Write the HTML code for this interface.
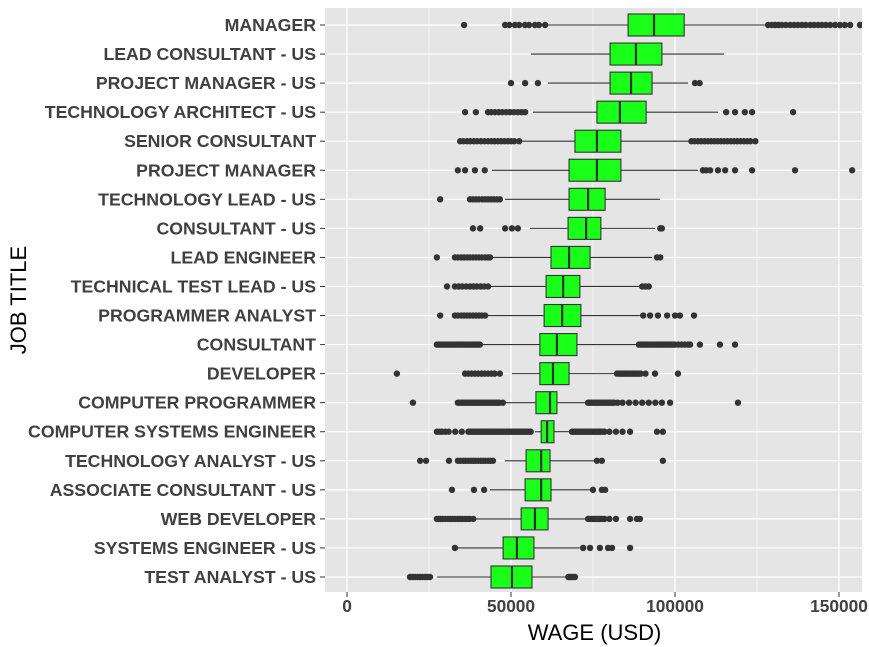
<!DOCTYPE html>
<html><head><meta charset="utf-8"><style>
html,body{margin:0;padding:0;background:#fff;}
svg{display:block;font-family:"Liberation Sans",Arial,sans-serif;}
</style></head><body>
<svg id="chart" width="869" height="647" viewBox="0 0 869 647" xmlns="http://www.w3.org/2000/svg"></svg>
<script>
const categories = ["MANAGER","LEAD CONSULTANT - US","PROJECT MANAGER - US","TECHNOLOGY ARCHITECT - US","SENIOR CONSULTANT","PROJECT MANAGER","TECHNOLOGY LEAD - US","CONSULTANT - US","LEAD ENGINEER","TECHNICAL TEST LEAD - US","PROGRAMMER ANALYST","CONSULTANT","DEVELOPER","COMPUTER PROGRAMMER","COMPUTER SYSTEMS ENGINEER","TECHNOLOGY ANALYST - US","ASSOCIATE CONSULTANT - US","WEB DEVELOPER","SYSTEMS ENGINEER - US","TEST ANALYST - US"];
// values in thousands USD
const whiskerLow = [61.3,56.1,61.3,56.7,53.4,44.2,48.2,55.8,44.2,43.6,43.0,41.2,50.3,48.2,57.3,48.2,43.6,39.3,33.5,27.4];
const q1 =        [85.7,80.2,80.2,76.2,69.5,67.7,67.7,67.4,62.2,60.7,60.1,58.8,58.8,57.6,59.2,54.6,54.3,53.1,47.6,43.9];
const median =    [93.6,88.1,86.6,83.2,76.2,76.2,73.5,72.9,67.7,65.9,65.6,64.0,62.8,61.9,61.0,59.2,59.2,57.3,51.8,50.3];
const q3 =        [102.8,96.0,93.0,91.2,83.5,83.5,78.7,77.4,74.1,71.0,71.3,70.1,67.7,64.0,63.1,61.9,62.2,61.3,57.0,56.4];
const whiskerHigh=[127.4,114.9,104.0,113.1,104.3,107.0,95.4,93.9,93.0,89.3,89.3,88.7,81.7,72.9,68.0,75.6,74.1,72.6,71.0,67.1];
const outliers = [
 [35.7,48.2,49.5,51.2,52.5,54.3,55.5,57.3,58.5,60.4,128.4,129.5,130.5,131.5,132.6,133.8,135.1,136.3,137.5,138.7,139.9,141.2,142.4,143.6,144.8,146,147.3,148.8,150.3,151.8,153.4,156.4],
 [],
 [50.0,54.3,58.2,106.1,107.5],
 [36.0,39.3,43.0,44.0,45.1,46.2,47.3,48.5,49.7,50.9,52.1,53.2,54.3,115.6,118.3,121.3,123.5,136.0],
 [34.5,35.5,36.6,37.6,38.7,39.7,40.8,41.9,43,44,45,46,47,48,49,50,51,52.5,105,106,107,108,109,110,111,112,113,114,115,116,117,118,119,120,121,122,123,124.5],
 [33.8,36,39,42,108.5,109.5,110.7,113.1,115.3,118.3,123.5,136.6,154.0],
 [28.4,37.5,38.4,39.3,40.2,41.2,42.1,43,43.9,44.8,45.7,46.6],
 [38.4,40.6,48.2,50.3,52.1,95.5,96],
 [27.4,32.9,33.8,34.8,35.7,36.6,37.5,38.4,39.3,40.2,41.1,42.1,43,43.6,94.5,95.5],
 [30.5,32.9,34,35.1,36.3,37.5,38.6,39.6,40.7,41.8,43,90,91,92],
 [28.4,32.9,33.8,34.8,35.7,36.6,37.5,38.4,39.3,40.2,41.1,42.1,90.3,92.4,94.8,97.6,100,101.5,105.8],
 [27.4,28,28.5,29,29.5,30,30.5,31,31.5,32,32.5,33,33.5,34,34.5,35,35.5,36,36.5,37,37.5,38,38.5,39,39.5,40,40.5,89,89.5,90,90.5,91,91.5,92,92.5,93,93.5,94,94.5,95,95.5,96,96.5,97,97.5,98,98.5,99,99.5,100,101,102,103,104,104.6,107.6,113.7,118.3],
 [15.2,36,37,38,39,40,41,42,43,44,45,46.6,82.3,83,83.5,84,84.5,85,85.5,86,86.5,87,87.5,88,88.5,89,89.5,91,93.9,100.9],
 [20.1,33.8,34.4,35,35.5,36,36.5,37,37.5,38,38.5,39,39.5,40,40.5,41,41.5,42,42.5,43,43.5,44,44.5,45,45.5,46,46.5,47.5,73.5,74,74.5,75,75.5,76,76.5,77,77.5,78,78.5,79,79.5,80,80.5,81,81.5,82.5,84,86,88,90,92,94,96,98.5,119.2],
 [27.4,28.2,29,30,31,33,35,37,37.5,38,38.5,39,39.5,40,40.5,41,41.5,42,42.5,43,43.5,44,44.5,45,45.5,46,46.5,47,47.5,48,48.5,49,49.5,50,50.5,51,51.5,52,52.5,53,53.5,54,54.5,55,55.5,56,68.6,69,69.5,70,70.5,71,71.5,72,72.5,73,73.5,74,74.5,75,75.5,76,76.5,77,77.5,78,78.5,80,82,84,86.3,94.5,96.3],
 [22.3,24.1,31.1,33.8,34.6,35.5,36.2,37,37.8,38.5,39.2,40,40.8,41.5,42.2,43,43.7,44.5,76.2,77.7,96.3],
 [32.0,38.7,41.8,75,77.7,78.7],
 [27.4,28,28.5,29.2,30,30.8,31.5,32.2,33,33.8,34.5,35.2,36,36.8,37.5,38.5,73.5,74,74.5,75,75.5,76,76.5,77,77.5,78,78.5,80,82,86.3,88.4,89.3],
 [32.9,72,74.1,77.1,79.6,80.8,86.3],
 [19.2,20,20.7,21.5,22.3,23,23.8,24.5,25.3,67.5,68,68.5,69,69.5]
];
const xTicks = [0,50000,100000,150000];
const xTickLabels = ["0","50000","100000","150000"];
const xMinor = [25000,75000,125000];

const NS="http://www.w3.org/2000/svg";
const svg=document.getElementById('chart');
const P={l:325,r:862,t:8,b:592};
const x=v=>347+v/50000*164;
const rowStep=(577-25)/(categories.length-1);
const y=i=>25+i*rowStep;
function mk(tag,attrs,parent){const e=document.createElementNS(NS,tag);for(const k in attrs)e.setAttribute(k,attrs[k]);(parent||svg).appendChild(e);return e;}

const panel=mk('rect',{x:P.l,y:P.t,width:P.r-P.l,height:P.b-P.t,fill:'#E5E5E5'});


const defs=mk('defs',{});
const cp=mk('clipPath',{id:'clip'},defs);
mk('rect',{x:P.l,y:P.t,width:P.r-P.l,height:P.b-P.t},cp);
const g=mk('g',{'clip-path':'url(#clip)'});



xMinor.forEach(v=>{const l=mk('line',{x1:x(v),x2:x(v),y1:P.t,y2:P.b,stroke:'#fff','stroke-width':0.6},g);

});
xTicks.forEach(v=>{const l=mk('line',{x1:x(v),x2:x(v),y1:P.t,y2:P.b,stroke:'#fff','stroke-width':1.2},g);

});
categories.forEach((c,i)=>{const l=mk('line',{x1:P.l,x2:P.r,y1:y(i),y2:y(i),stroke:'#fff','stroke-width':1.2},g);

});

const bh=22;
categories.forEach((c,i)=>{
  const k=1000;
  const grp=mk('g',{},g);
  
  
  mk('line',{x1:x(whiskerLow[i]*k),x2:x(q1[i]*k),y1:y(i),y2:y(i),stroke:'#333','stroke-width':1.1},grp);
  mk('line',{x1:x(q3[i]*k),x2:x(whiskerHigh[i]*k),y1:y(i),y2:y(i),stroke:'#333','stroke-width':1.1},grp);
  mk('rect',{x:x(q1[i]*k),y:y(i)-bh/2,width:x(q3[i]*k)-x(q1[i]*k),height:bh,fill:'#1AFF1A',stroke:'#333','stroke-width':1.1},grp);
  mk('line',{x1:x(median[i]*k),x2:x(median[i]*k),y1:y(i)-bh/2,y2:y(i)+bh/2,stroke:'#333','stroke-width':2.2},grp);
  outliers[i].forEach(o=>{const d=mk('circle',{cx:x(o*k),cy:y(i),r:3.2,fill:'#333'},grp);
    
    });
});

categories.forEach((c,i)=>{
  mk('line',{x1:320,x2:P.l,y1:y(i),y2:y(i),stroke:'#333','stroke-width':1});
  const t=mk('text',{x:316,y:y(i)+6,'text-anchor':'end','font-size':'17.7','font-weight':'bold',fill:'#404040'});
  t.textContent=c;
  
  
});
xTicks.forEach((v,i)=>{
  mk('line',{x1:x(v),x2:x(v),y1:P.b,y2:P.b+5,stroke:'#333','stroke-width':1});
  const t=mk('text',{x:x(v),y:612,'text-anchor':'middle','font-size':'17.3','font-weight':'bold',fill:'#404040'});
  t.textContent=xTickLabels[i];
  
  
});
const xt=mk('text',{x:(P.l+P.r)/2+1,y:640,'text-anchor':'middle','font-size':'22',fill:'#000'});
xt.textContent='WAGE (USD)';


const yt=mk('text',{x:0,y:0,'text-anchor':'middle','font-size':'22',fill:'#000',transform:'translate(26,300) rotate(-90)'});
yt.textContent='JOB TITLE';


</script>
</body></html>
